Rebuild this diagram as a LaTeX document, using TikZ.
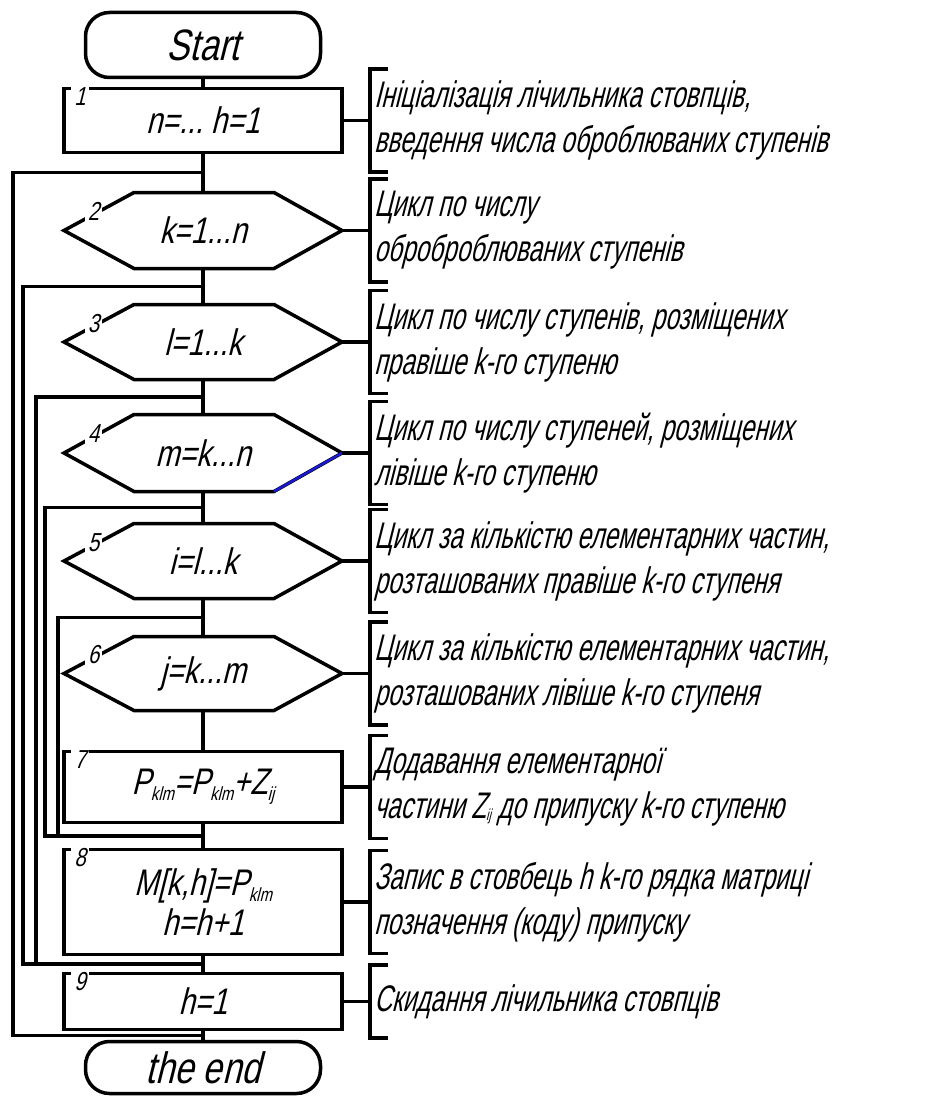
\documentclass[tikz,border=0pt]{standalone}
\usepackage{fontspec}
\setmainfont{Liberation Sans}[FakeSlant=0.25,FakeStretch=0.78]
\newfontfamily\notefont{Liberation Sans}[FakeSlant=0.25,FakeStretch=0.66]
\usetikzlibrary{positioning, calc}
\definecolor{edgeblue}{RGB}{25,25,210}
\newcommand{\lowidx}[1]{\raisebox{-0.3ex}{\fontsize{19}{19}\selectfont #1}}

\begin{document}
\begin{tikzpicture}[x=1pt, y=-1pt, line width=3.5pt, line join=miter,
  term/.style={rectangle, rounded corners=24pt, draw, outer sep=0pt, minimum width=235pt, font=\fontsize{44}{48}\selectfont},
  proc/.style={rectangle, draw, outer sep=0pt, minimum width=278pt, font=\fontsize{37}{40}\selectfont},
  loopbox/.style={rectangle, outer sep=0pt, minimum width=278pt, font=\fontsize{37}{40}\selectfont},
  num/.style={fill=white, inner xsep=3pt, inner ysep=1pt, font=\fontsize{26}{26}\selectfont},
  note/.style={rectangle, outer sep=0pt, minimum height=103pt, inner xsep=4pt, align=left, font=\notefont\fontsize{37}{45}\selectfont}]
  \useasboundingbox (0,0) rectangle (928,1097);

  % Define the nodes
  \node (start) [term, minimum height=65pt] at (203,45) {Start};
  \node (init) [proc, minimum height=64pt, below=11pt of start] {n=...\ h=1};
  \node (k) [loopbox, minimum height=76pt, below=40pt of init] {k=1...n};
  \node (l) [loopbox, minimum height=75pt, below=36pt of k] {l=1...k};
  \node (m) [loopbox, minimum height=77pt, below=35pt of l] {m=k...n};
  \node (i) [loopbox, minimum height=75pt, below=32pt of m] {i=l...k};
  \node (j) [loopbox, minimum height=74pt, below=38pt of i] {j=k...m};
  \node (sum) [proc, minimum height=71pt, below=41pt of j] {P\lowidx{klm}=P\lowidx{klm}+Z\lowidx{ij}};
  \node (rec) [proc, minimum height=105pt, below=27pt of sum, align=center] {M[k,h]=P\lowidx{klm}\\h=h+1};
  \node (reset) [proc, minimum height=56pt, below=19pt of rec] {h=1};
  \node (finish) [term, minimum height=52pt, below=12pt of reset] {the end};

  % Loop hexagons with their numbers
  \foreach \h/\n in {k/2, l/3, m/4, i/5, j/6}
    \draw (\h.west) -- node[num, pos=0.42, yshift=3pt] {\n} ([xshift=70pt]\h.north west)
      -- ([xshift=-68pt]\h.north east) -- (\h.east)
      -- ([xshift=-68pt]\h.south east) -- ([xshift=70pt]\h.south west) -- cycle;
  \draw [edgeblue, line width=2.5pt] ([xshift=-68pt]m.south east) -- (m.east);

  % Block numbers
  \node [num] at ([xshift=16pt,yshift=-8pt]init.north west) {1};
  \node [num] at ([xshift=16pt,yshift=-8pt]sum.north west) {7};
  \node [num] at ([xshift=16pt,yshift=-8pt]rec.north west) {8};
  \node [num] at ([xshift=16pt,yshift=-8pt]reset.north west) {9};

  % Connect the nodes
  \draw (start) -- (init) -- (k) -- (l) -- (m) -- (i) -- (j) -- (sum) -- (rec) -- (reset) -- (finish);

  % Loop returns on the left
  \coordinate (in2) at ($(init.south)!0.5!(k.north)$);
  \coordinate (in3) at ($(k.south)!0.5!(l.north)$);
  \coordinate (in4) at ($(l.south)!0.5!(m.north)$);
  \coordinate (in5) at ($(m.south)!0.5!(i.north)$);
  \coordinate (in6) at ($(i.south)!0.5!(j.north)$);
  \coordinate (back56) at ($(sum.south)!0.5!(rec.north)$);
  \coordinate (back34) at ($(rec.south)!0.5!(reset.north)$);
  \coordinate (back2) at ($(reset.south)!0.5!(finish.north)$);
  \foreach \n/\x in {2/13, 3/23, 4/36, 5/45, 6/58}
    \coordinate (rail\n) at (\x,0);
  \draw (in2) -- (in2 -| rail2) -- (back2 -| rail2) -- (back2);
  \draw (in3) -- (in3 -| rail3) -- (back34 -| rail3) -- (back34);
  \draw (in4) -- (in4 -| rail4) -- (back34 -| rail4);
  \draw (in5) -- (in5 -| rail5) -- (back56 -| rail5) -- (back56);
  \draw (in6) -- (in6 -| rail6) -- (back56 -| rail6);

  % Comments
  \node (c1) [note, right=28pt of init] {Ініціалізація лічильника стовпців,\\введення числа оброблюваних ступенів};
  \node (c2) [note, right=28pt of k] {Цикл по числу\\оброброблюваних ступенів};
  \node (c3) [note, right=28pt of l] {Цикл по числу ступенів, розміщених\\правіше k-го ступеню};
  \node (c4) [note, right=28pt of m] {Цикл по числу ступеней, розміщених\\лівіше k-го ступеню};
  \node (c5) [note, right=28pt of i] {Цикл за кількістю елементарних частин,\\розташованих правіше k-го ступеня};
  \node (c6) [note, right=28pt of j] {Цикл за кількістю елементарних частин,\\розташованих лівіше k-го ступеня};
  \node (c7) [note, right=28pt of sum] {Додавання елементарної\\частини Z{\fontsize{16}{16}\selectfont\raisebox{-0.3ex}{ij}} до припуску k-го ступеню};
  \node (c8) [note, right=28pt of rec] {Запис в стовбець h k-го рядка матриці\\позначення (коду) припуску};
  \node (c9) [note, minimum height=73pt, right=28pt of reset] {Скидання лічильника стовпців};
  \foreach \s/\c in {init/c1, k/c2, l/c3, m/c4, i/c5, j/c6, sum/c7, rec/c8, reset/c9}
    \draw (\s.east) -- (\c.west);
  \foreach \c in {c1, c2, c3, c4, c5, c6, c7, c8, c9}
    \draw ([xshift=18pt]\c.north west) -- (\c.north west) -- (\c.south west) -- ([xshift=18pt]\c.south west);
\end{tikzpicture}
\end{document}
